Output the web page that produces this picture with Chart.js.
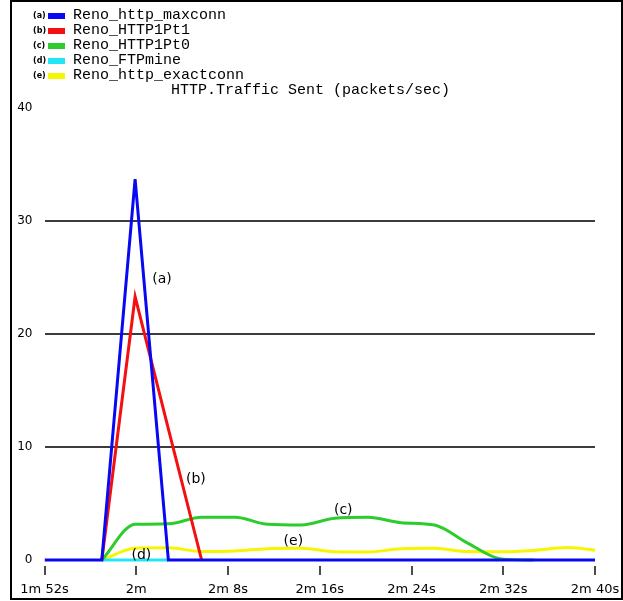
<!DOCTYPE html>
<html>
<head>
<meta charset="utf-8">
<script src="https://cdn.jsdelivr.net/npm/chart.js@4/dist/chart.umd.min.js"></script>
<style>
  html, body { margin: 0; padding: 0; background: #fff; }
  #wrap { position: relative; width: 623px; height: 601px; overflow: hidden; background: #fff; }
  #c { position: absolute; left: 0; top: 0; }
  #frame { position: absolute; left: 10px; top: 0; width: 613px; height: 600px; box-sizing: border-box;
           border: 2px solid #000; pointer-events: none; }
  #legend { position: absolute; left: 33px; top: 8px; font-family: "Liberation Mono", monospace;
            font-size: 15px; color: #000; }
  .row { height: 15px; line-height: 15px; display: flex; align-items: center; white-space: pre; }
  .tag { font: bold 8px "DejaVu Sans", sans-serif; width: 15px; }
  .sw { width: 17px; height: 6px; margin-right: 8px; }
  #title { position: absolute; left: 171px; top: 82px; height: 18px; line-height: 18px;
           font-family: "Liberation Mono", monospace; font-size: 15px; color: #000; white-space: pre; }
</style>
</head>
<body>
<div id="wrap">
  <canvas id="c" width="623" height="601"></canvas>
  <div id="legend"></div>
  <div id="title"></div>
  <div id="frame"></div>
</div>
<script>
// Sample times in seconds (1m 52s .. 2m 40s)
const times = [112, 117, 119.9, 122.8, 125.7, 128.6, 131.5, 134.4, 137.3, 140.2, 143.1, 146.0, 148.9, 151.8, 154.7, 157.6, 160.5];

// Packets/sec per series (null = no sample drawn)
const httpMaxconn   = [0,    0, 33.7, 0,    0,    0,    0,    0,    0,    0,    0,   0,    0,    0,    0,    0,    0];
const http1Pt1      = [null, 0, 23.3, 11.6, 0,    null, null, null, null, null, null, null, null, null, null, null, null];
const http1Pt0      = [null, 0, 3.16, 3.2,  3.78, 3.78, 3.16, 3.1,  3.69, 3.78, 3.3, 3.1,  1.5,  0.1,  0,    null, null];
const ftpMine       = [null, 0, 0,    0,    null, null, null, null, null, null, null, null, null, null, null, null, null];
const httpExactconn = [null, 0, 1.05, 1.09, 0.75, 0.8,  1.0,  1.03, 0.73, 0.7,  1.0, 1.03, 0.75, 0.73, 0.85, 1.1,  0.8];

const seriesNames = ['Reno_http_maxconn', 'Reno_HTTP1Pt1', 'Reno_HTTP1Pt0', 'Reno_FTPmine', 'Reno_http_exactconn'];
const seriesTags  = ['(a)', '(b)', '(c)', '(d)', '(e)'];
const seriesData  = [httpMaxconn, http1Pt1, http1Pt0, ftpMine, httpExactconn];

const yTicks = [0, 10, 20, 30, 40];
const xTicks = [112, 120, 128, 136, 144, 152, 160];

const chartTitle = 'HTTP.Traffic Sent (packets/sec)';

// styling
const colors = ['#0808f2', '#f21010', '#2ccc2c', '#22e6f6', '#f6f600'];
const smooth = [false, false, true, false, true];

// where each series tag sits, in data units (seconds, packets/sec)
const tagAnchors = [
  { x: 122.25, y: 24.8 },
  { x: 125.2,  y: 7.1 },
  { x: 138.05, y: 4.42 },
  { x: 120.45, y: 0.44 },
  { x: 133.7,  y: 1.62 }
];

document.getElementById('title').textContent = chartTitle;

// legend block
const legendEl = document.getElementById('legend');
seriesNames.forEach((name, i) => {
  const row = document.createElement('div');
  row.className = 'row';
  const tag = document.createElement('span');
  tag.className = 'tag';
  tag.textContent = seriesTags[i];
  const sw = document.createElement('span');
  sw.className = 'sw';
  sw.style.background = colors[i];
  const txt = document.createElement('span');
  txt.textContent = name;
  row.append(tag, sw, txt);
  legendEl.appendChild(row);
});

function fmtTime(v) {
  const m = Math.floor(v / 60), s = Math.round(v - m * 60);
  return s === 0 ? m + 'm' : m + 'm ' + s + 's';
}

// keep the plot box fixed: no extra room reserved for overhanging tick labels
function noOverhang(s) {
  s.paddingLeft = 0; s.paddingRight = 0; s.paddingTop = 0; s.paddingBottom = 0;
}

const extras = {
  id: 'extras',
  afterDraw(chart) {
    const { ctx, scales: { x, y } } = chart;
    ctx.save();
    // x tick marks, set slightly below the plot floor
    ctx.strokeStyle = '#111';
    ctx.lineWidth = 1.5;
    xTicks.forEach(v => {
      const px = Math.round(x.getPixelForValue(v));
      ctx.beginPath();
      ctx.moveTo(px, y.bottom + 6);
      ctx.lineTo(px, y.bottom + 15);
      ctx.stroke();
    });
    // series tags beside their lines
    ctx.fillStyle = '#000';
    ctx.font = '14px "DejaVu Sans", sans-serif';
    ctx.textAlign = 'center';
    ctx.textBaseline = 'middle';
    tagAnchors.forEach((a, i) => {
      ctx.fillText(seriesTags[i], x.getPixelForValue(a.x), y.getPixelForValue(a.y));
    });
    ctx.restore();
  }
};

new Chart(document.getElementById('c'), {
  type: 'line',
  data: {
    datasets: seriesData.map((vals, i) => ({
      label: seriesNames[i],
      data: vals.map((v, k) => ({ x: times[k], y: v })),
      borderColor: colors[i],
      backgroundColor: colors[i],
      borderWidth: 3,
      pointRadius: 0,
      fill: false,
      spanGaps: false,
      clip: { left: 0, right: 0, top: 4, bottom: 4 },
      cubicInterpolationMode: smooth[i] ? 'monotone' : 'default',
      tension: 0
    }))
  },
  options: {
    responsive: false,
    animation: false,
    devicePixelRatio: 1,
    layout: { padding: { left: 0, right: 28, top: 108, bottom: 0 } },
    plugins: {
      legend: { display: false },
      tooltip: { enabled: false },
      title: { display: false }
    },
    scales: {
      x: {
        type: 'linear',
        min: 112,
        max: 160,
        afterBuildTicks: s => { s.ticks = xTicks.map(v => ({ value: v })); },
        afterFit: s => { s.height = 41; noOverhang(s); },
        grid: { display: false, drawTicks: false },
        border: { display: false },
        ticks: {
          callback: v => fmtTime(v),
          color: '#000',
          font: { family: '"DejaVu Sans", sans-serif', size: 13 },
          padding: 22,
          maxRotation: 0,
          autoSkip: false
        }
      },
      y: {
        min: 0,
        max: 40,
        z: 1,
        afterBuildTicks: s => { s.ticks = yTicks.map(v => ({ value: v })); },
        afterFit: s => { s.width = 44.5; noOverhang(s); },
        grid: {
          drawTicks: false,
          lineWidth: 2,
          color: c => (c.tick && c.tick.value > 0 && c.tick.value < 40) ? '#3c3c3c' : 'rgba(0,0,0,0)'
        },
        border: { display: false },
        ticks: {
          color: '#000',
          font: { family: '"DejaVu Sans", sans-serif', size: 12 },
          padding: 12
        }
      }
    }
  },
  plugins: [extras]
});
</script>
</body>
</html>
